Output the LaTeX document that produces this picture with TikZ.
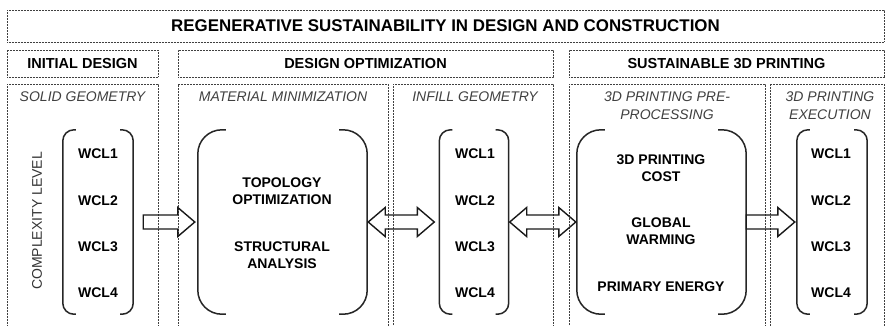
\documentclass[tikz,border=0pt]{standalone}
\usepackage{fontspec}
\setmainfont{Liberation Sans}
\usepackage{tikz}
\usetikzlibrary{calc,positioning}

% a pair of round brackets round a node: name, corner radius, arm length
\newcommand{\parens}[3]{%
  \draw[brk, rounded corners=#2] ([xshift=#3]#1.north west) -- (#1.north west) -- (#1.south west) -- ([xshift=#3]#1.south west);
  \draw[brk, rounded corners=#2] ([xshift=-#3]#1.north east) -- (#1.north east) -- (#1.south east) -- ([xshift=-#3]#1.south east);
}

\begin{document}
\begin{tikzpicture}[x=1pt,y=-1pt,
  dotbox/.style={draw=black!75, line width=0.8pt, dash pattern=on 0.8pt off 0.7pt, inner sep=0pt},
  headtext/.style={font=\fontsize{14.5}{17}\selectfont\bfseries},
  subtitle/.style={text=black!75, align=center, font=\fontsize{14}{18}\selectfont\itshape},
  brk/.style={line width=1.5pt, black!85},
  inbox/.style={draw=none, inner sep=0pt},
  wcl/.style={align=center, font=\fontsize{14}{17}\selectfont\bfseries},
  arrowline/.style={draw=black!90, line width=1.4pt, line join=miter},
  blockarrow/.style={to path={let \p1=(\tikztostart), \p2=(\tikztotarget) in
    (\x1,{\y1+7pt}) -- ({\x2-17pt},{\y1+7pt}) -- ({\x2-17pt},{\y1+14.5pt}) -- (\x2,\y1)
    -- ({\x2-17pt},{\y1-14.5pt}) -- ({\x2-17pt},{\y1-7pt}) -- (\x1,{\y1-7pt}) -- cycle}},
  dblarrow/.style={to path={let \p1=(\tikztostart), \p2=(\tikztotarget) in
    (\x1,\y1) -- ({\x1+17pt},{\y1+14.5pt}) -- ({\x1+17pt},{\y1+7pt}) -- ({\x2-17pt},{\y1+7pt})
    -- ({\x2-17pt},{\y1+14.5pt}) -- (\x2,\y1) -- ({\x2-17pt},{\y1-14.5pt}) -- ({\x2-17pt},{\y1-7pt})
    -- ({\x1+17pt},{\y1-7pt}) -- ({\x1+17pt},{\y1-14.5pt}) -- cycle}}
  ]
  \useasboundingbox (0,0) rectangle (886,325);
  \clip (0,0) rectangle (886,325);

  % headings
  \node[dotbox, minimum width=877pt, minimum height=32pt, font=\fontsize{16.9}{19}\selectfont\bfseries] (title) at (445.5,26) {REGENERATIVE SUSTAINABILITY IN DESIGN AND CONSTRUCTION};
  \node[dotbox, headtext, minimum width=151pt, minimum height=27pt] (hdinit) at (82.5,63.5) {INITIAL DESIGN};
  \node[dotbox, headtext, minimum width=375pt, minimum height=27pt] (hdopt) at (365.5,63.5) {DESIGN OPTIMIZATION};
  \node[dotbox, headtext, minimum width=315pt, minimum height=27pt] (hdprint) at (726.5,63.5) {SUSTAINABLE 3D PRINTING};

  % columns (open at the bottom)
  \node[dotbox, minimum width=151pt, minimum height=251pt] (colsolid) at (82.5,209.5) {};
  \node[dotbox, minimum width=210pt, minimum height=251pt] (colmat) at (283,209.5) {};
  \node[dotbox, minimum width=160pt, minimum height=251pt] (colinfill) at (473,209.5) {};
  \node[dotbox, minimum width=196pt, minimum height=251pt] (colpre) at (667,209.5) {};
  \node[dotbox, minimum width=114pt, minimum height=251pt] (colexec) at (827,209.5) {};

  \node[subtitle] (subsolid) at (82.5,97) {SOLID GEOMETRY};
  \node[subtitle] (submat) at (283,97) {MATERIAL MINIMIZATION};
  \node[subtitle] (subinfill) at (475,97) {INFILL GEOMETRY};
  \node[subtitle] (subpre) at (667,106) {3D PRINTING PRE-\\PROCESSING};
  \node[subtitle] (subexec) at (830,106) {3D PRINTING\\EXECUTION};

  \node[rotate=90, text=black!80, font=\fontsize{14}{17}\selectfont] (cplx) at (37,221) {COMPLEXITY LEVEL};

  % brackets
  \node[inbox, minimum width=70pt, minimum height=184pt] (wclsolid) at (98,222) {};
  \node[inbox, minimum width=169pt, minimum height=184pt] (matmin) at (282.5,222) {};
  \node[inbox, minimum width=69pt, minimum height=184pt] (wclinfill) at (474,222) {};
  \node[inbox, minimum width=169pt, minimum height=184pt] (preproc) at (661.5,222) {};
  \node[inbox, minimum width=70pt, minimum height=184pt] (wclexec) at (832,222) {};
  \parens{wclsolid}{11pt}{13pt}
  \parens{matmin}{24pt}{28pt}
  \parens{wclinfill}{11pt}{13pt}
  \parens{preproc}{24pt}{28pt}
  \parens{wclexec}{11pt}{13pt}

  \foreach \c/\x in {s/98,f/475,e/831}
    \foreach \i/\y in {1/154,2/201,3/247,4/293}
      \node[wcl] (\c\i) at (\x,\y) {WCL\i};

  \node[wcl] (topo) at (282,191) {TOPOLOGY\\OPTIMIZATION};
  \node[wcl] (struct) at (282,255) {STRUCTURAL\\ANALYSIS};
  \node[wcl] (cost) at (661,168) {3D PRINTING\\COST};
  \node[wcl] (gwp) at (661,231) {GLOBAL\\WARMING};
  \node[wcl] (penergy) at (661,287) {PRIMARY ENERGY};

  % arrows
  \draw[arrowline] ([xshift=10pt]wclsolid.east) to[blockarrow] ([xshift=-3pt]matmin.west);
  \draw[arrowline] ([xshift=1pt]matmin.east) to[dblarrow] ([xshift=-5pt]wclinfill.west);
  \draw[arrowline] ([xshift=1pt]wclinfill.east) to[dblarrow] ([xshift=-1pt]preproc.west);
  \draw[arrowline] (preproc.east) to[blockarrow] ([xshift=-2pt]wclexec.west);
\end{tikzpicture}
\end{document}
